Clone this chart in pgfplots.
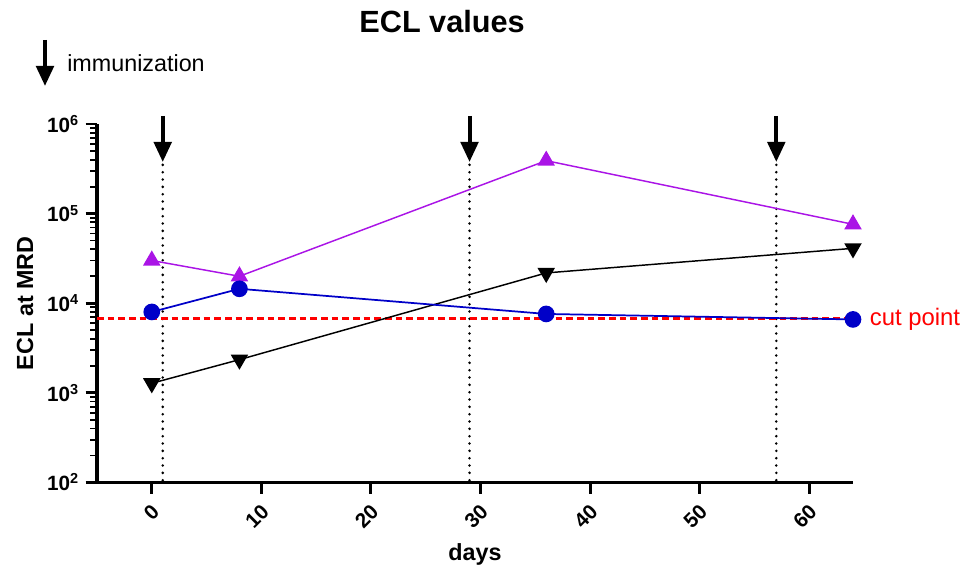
\documentclass[border=0pt]{standalone}
\usepackage{pgfplots}
\pgfplotsset{compat=1.18}
\usepackage{fontspec}
\setmainfont{Liberation Sans}
\usetikzlibrary{arrows.meta}
\definecolor{cpurple}{RGB}{170,20,230}
\definecolor{cblue}{RGB}{0,0,200}
\definecolor{cred}{RGB}{255,0,0}
\begin{document}
\begin{tikzpicture}
\begin{axis}[name=ax, at={(0,0)}, anchor=south west,
  scale only axis, width=567pt, height=268.9pt,
  xmin=-5, xmax=64, ymode=log, ymin=1e2, ymax=1e6,
  axis lines*=left, axis line style={line width=2.8pt,-},
  xtick={0,10,...,60}, ytick={1e2,1e3,1e4,1e5,1e6},
  yticklabels={\textbf{10\textsuperscript{2}},\textbf{10\textsuperscript{3}},\textbf{10\textsuperscript{4}},\textbf{10\textsuperscript{5}},\textbf{10\textsuperscript{6}}},
  xticklabel style={font=\bfseries\fontsize{15.5}{17}\selectfont, /pgf/number format/assume math mode=true, inner sep=0pt, xshift=3pt, yshift=-11pt, rotate=45, anchor=east},
  yticklabel style={font=\bfseries\fontsize{15.5}{17}\selectfont, inner sep=0pt, xshift=-5pt},
  tick align=outside, major tick length=8.5pt, minor tick length=5pt,
  every major tick/.append style={line width=2.2pt, black},
  every minor tick/.append style={line width=1.3pt, black},
  clip=false,
  xlabel={days}, ylabel={ECL at MRD},
  xlabel style={at={(axis description cs:0.5,0)}, anchor=center, yshift=-54pt, font=\bfseries\fontsize{17.5}{20}\selectfont},
  ylabel style={at={(axis description cs:-0.0952,0.5)}, anchor=center, font=\bfseries\fontsize{17.5}{20}\selectfont},
]
% immunization dotted lines
\addplot[black, line width=2.1pt, dash pattern=on 0pt off 5.5pt, line cap=round] coordinates {(1,3.5e5) (1,1e2)};
\addplot[black, line width=2.1pt, dash pattern=on 0pt off 5.5pt, line cap=round] coordinates {(29,3.5e5) (29,1e2)};
\addplot[black, line width=2.1pt, dash pattern=on 0pt off 5.5pt, line cap=round] coordinates {(57,3.5e5) (57,1e2)};
% cut point
\addplot[cred, line width=2.4pt, dash pattern=on 5pt off 3pt] coordinates {(-5,6700) (64,6700)};
% series
\addplot[cpurple, line width=1.1pt, mark=triangle*, mark size=6.5pt, mark options={solid}] coordinates {(0,30000) (8,20000) (36,390000) (64,76000)};
\addplot[black, line width=1.1pt, mark=triangle*, mark size=6.5pt, mark options={solid, rotate=180}] coordinates {(0,1280) (8,2350) (36,21800) (64,41000)};
\addplot[cblue, line width=1.3pt, mark=*, mark size=5.6pt] coordinates {(0,8000) (8,14500) (36,7600) (64,6600)};
% arrows
\draw[line width=3pt, -{Triangle[width=13pt,length=15pt]}] (axis cs:1,1.23e6) -- (axis cs:1,3.77e5);
\draw[line width=3pt, -{Triangle[width=13pt,length=15pt]}] (axis cs:29,1.23e6) -- (axis cs:29,3.77e5);
\draw[line width=3pt, -{Triangle[width=13pt,length=15pt]}] (axis cs:57,1.23e6) -- (axis cs:57,3.77e5);
\node[anchor=west, inner sep=0pt, text=cred, font=\fontsize{17.9}{20}\selectfont, xshift=12.5pt] at (axis cs:64,6700) {cut point};
\end{axis}
% legend arrow
\draw[line width=3pt, -{Triangle[width=13pt,length=15pt]}] ([shift={(-39pt,331.9pt)}]ax.south west) -- ([shift={(-39pt,297.4pt)}]ax.south west);
\node[anchor=west, inner sep=0pt, font=\fontsize{17.5}{20}\selectfont] at ([shift={(-22.5pt,314.6pt)}]ax.south west) {immunization};
% title
\node[font=\bfseries\fontsize{23}{26}\selectfont] at ([shift={(258.8pt,345.4pt)}]ax.south west) {ECL values};
\pgfresetboundingbox
\path[use as bounding box] ([shift={(-72.75pt,-65.6pt)}]ax.south west) rectangle ([shift={(651.75pt,361.9pt)}]ax.south west);
\end{tikzpicture}
\end{document}
